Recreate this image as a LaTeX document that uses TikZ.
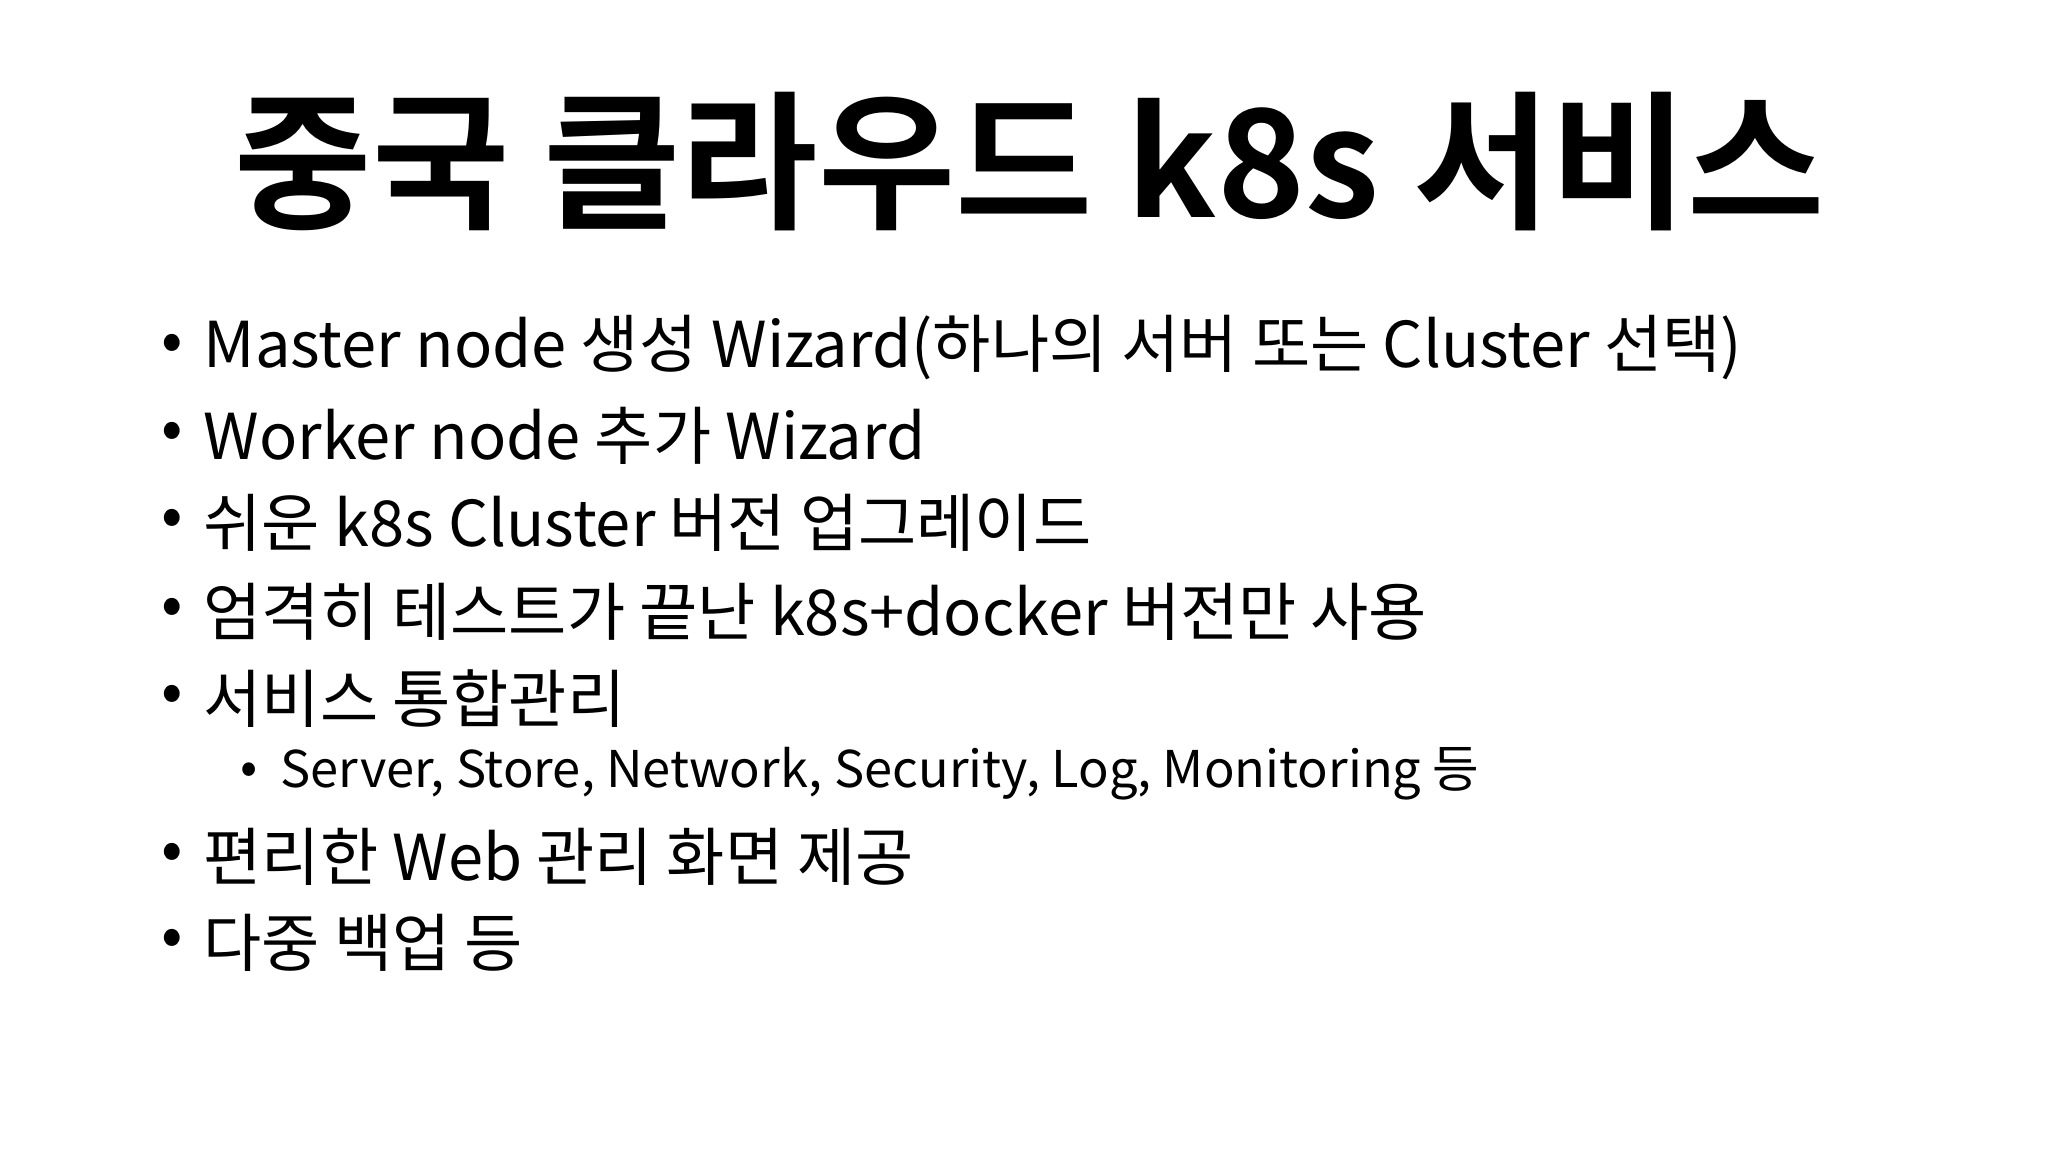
\documentclass[tikz,border=0pt]{standalone}
\usepackage{fontspec}
\setmainfont{Noto Sans CJK KR}
\newfontfamily\titlefont{Noto Sans CJK KR Bold}
\begin{document}
\begin{tikzpicture}[x=1cm,y=-1cm,
  lvone/.style={anchor=west,inner sep=0pt,font=\fontsize{18}{22}\selectfont},
  lvtwo/.style={anchor=west,inner sep=0pt,font=\fontsize{14.4}{18}\selectfont},
  bul/.style={anchor=center,inner sep=0pt}]
\useasboundingbox[fill=white] (0,0) rectangle (20.48,11.52);
\node[font=\titlefont\fontsize{42.5}{48}\selectfont,inner sep=0pt] (title) at (10.30,1.62) {중국 클라우드 k8s 서비스};
\foreach \n/\y/\t in {a/3.48/{Master node 생성 Wizard(하나의 서버 또는 Cluster 선택)},
  b/4.36/{Worker node 추가 Wizard},
  c/5.23/{쉬운 k8s Cluster 버전 업그레이드},
  d/6.12/{엄격히 테스트가 끝난 k8s+docker 버전만 사용},
  e/6.99/{서비스 통합관리},
  g/8.57/{편리한 Web 관리 화면 제공},
  h/9.43/{다중 백업 등}}{
  \node[lvone] (\n) at (2.03,\y) {\t};
  \node[bul,font=\fontsize{18}{22}\selectfont] (\n b) at (1.72,\y) {•};
}
\node[lvtwo] (f) at (2.80,7.74) {Server, Store, Network, Security, Log, Monitoring 등};
\node[bul,font=\fontsize{14.4}{18}\selectfont] (fb) at (2.49,7.74) {•};
\end{tikzpicture}
\end{document}
